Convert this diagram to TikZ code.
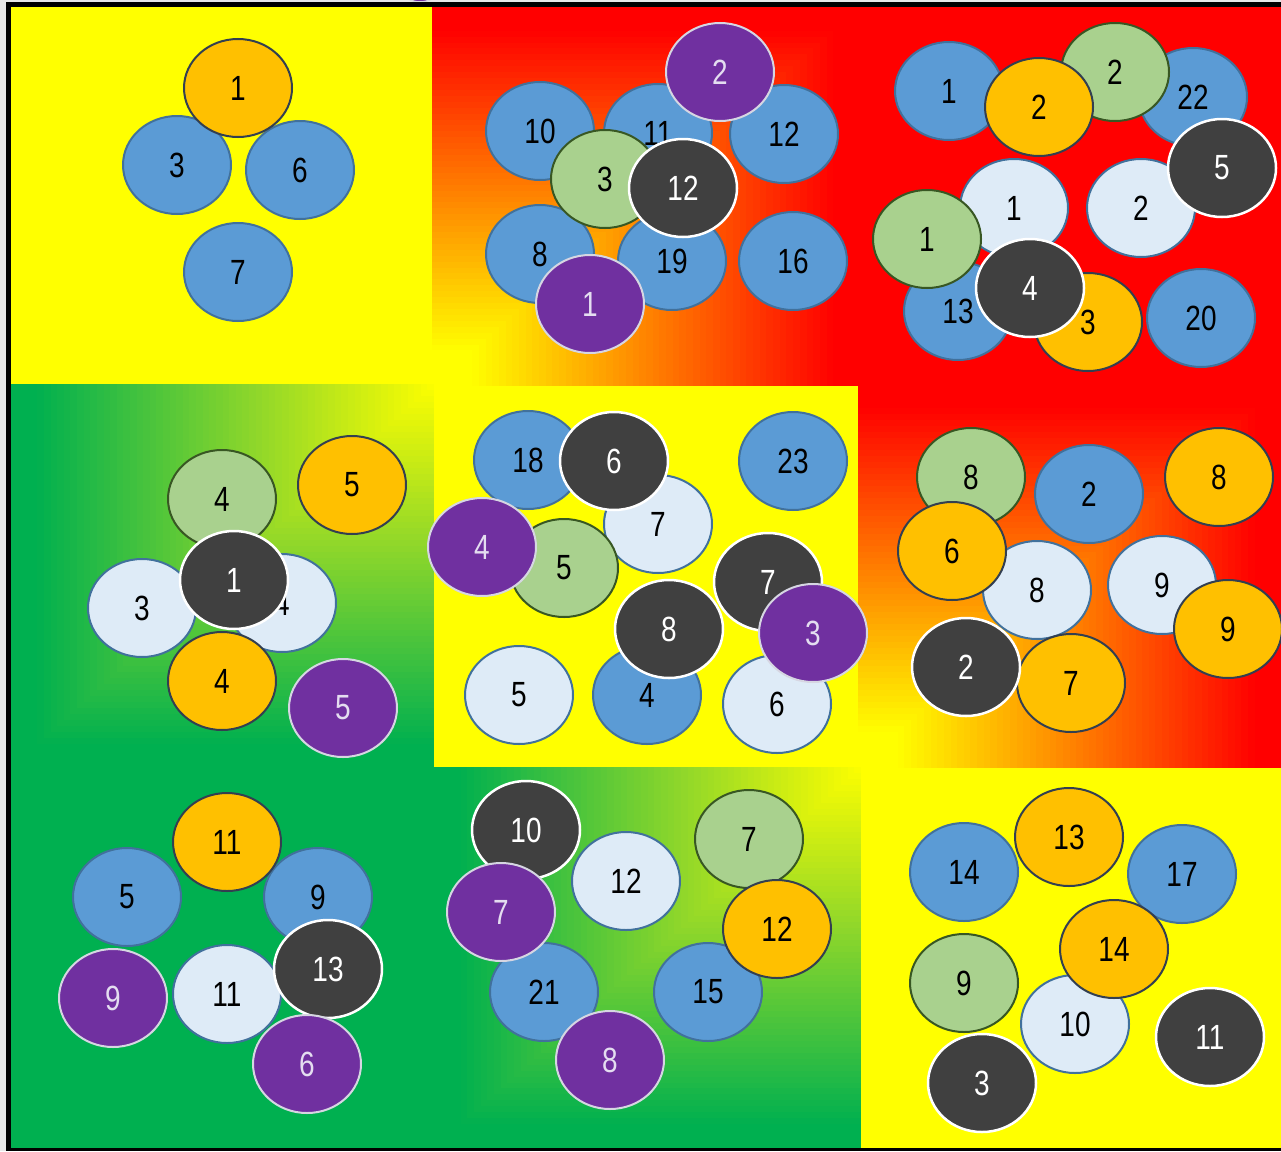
\documentclass[tikz,border=0pt]{standalone}
\usepackage{fontspec}
\newfontfamily\numfont{Liberation Sans}[FakeStretch=0.8]
\usetikzlibrary{shapes.geometric}

\definecolor{cYel}{HTML}{FFFF00}
\definecolor{cRed}{HTML}{FF0000}
\definecolor{cGrn}{HTML}{00B050}
\definecolor{cGray}{HTML}{E7E7E7}
\definecolor{bbF}{HTML}{5B9BD5}
\definecolor{bbD}{HTML}{41719C}
\definecolor{ogF}{HTML}{FFC000}
\definecolor{ogD}{HTML}{333F50}
\definecolor{grF}{HTML}{A9D18E}
\definecolor{grD}{HTML}{385723}
\definecolor{lbF}{HTML}{DEEBF7}
\definecolor{dkF}{HTML}{404040}
\definecolor{ppF}{HTML}{7030A0}
\definecolor{ppD}{HTML}{D6D6E2}
\definecolor{ppT}{HTML}{E4DDF0}

% colour profiles of the corner gradients (t = 0 at the corner, 1 at the far side)
\newcommand\profY[1]{%
  \pgfmathtruncatemacro\gG{255*max(0,min(1,(0.95-#1)/0.85))}%
  \definecolor{gc}{RGB}{255,\gG,0}}
\newcommand\profG[1]{%
  \pgfmathsetmacro\ga{min(1,#1/0.42)}%
  \pgfmathsetmacro\gb{max(0,min(1,(#1-0.42)/0.53))}%
  \pgfmathtruncatemacro\gR{255-109*\ga-146*\gb}%
  \pgfmathtruncatemacro\gG{255-39*\ga-40*\gb}%
  \pgfmathtruncatemacro\gB{42*\ga+38*\gb}%
  \definecolor{gc}{RGB}{\gR,\gG,\gB}}
% rectangular gradient from corner (#1,#2) to far corner (#3,#4)
\newcommand\gradpanel[5]{%
  \foreach \k in {64,63,...,1}{%
    \pgfmathsetmacro\gt{\k/64}%
    #5{\gt}%
    \fill[gc] (#1,#2) rectangle ({#1+\gt*(#3-#1)},{#2+\gt*(#4-#2)});
  }}

\tikzset{
  ell/.style={ellipse, minimum width=108pt, minimum height=98pt, inner sep=0pt,
    line width=2pt, font=\numfont\fontsize{35}{40}\selectfont},
  bb/.style={ell, fill=bbF, draw=bbD, text=black},
  og/.style={ell, fill=ogF, draw=ogD, text=black},
  gr/.style={ell, fill=grF, draw=grD, text=black},
  lb/.style={ell, fill=lbF, draw=bbD, text=black},
  dk/.style={ell, fill=dkF, draw=white, text=white, line width=2.5pt},
  pp/.style={ell, fill=ppF, draw=ppD, text=ppT},
}

\begin{document}
\begin{tikzpicture}[x=1pt, y=-1pt]
\useasboundingbox (0,0) rectangle (1281,1151);
\fill[cGray] (0,0) rectangle (1281,1151);
\fill[ppF, draw=ppD, line width=1.5pt] (420,-8) ellipse [x radius=16, y radius=10];
\fill[black] (6,2) rectangle (1281,1151);

% panels
\fill[cYel] (11,7) rectangle (432,385);
\gradpanel{432}{386}{860}{7}{\profY}
\fill[cRed] (860,7) rectangle (1281,386);
\gradpanel{434}{384}{11}{768}{\profG}
\gradpanel{858}{768}{1281}{384}{\profY}
\fill[cGrn] (11,768) rectangle (440,1148);
\gradpanel{861}{767}{434}{1148}{\profG}
\fill[cYel] (861,768) rectangle (1281,1148);
\fill[cYel] (434,386) rectangle (858,767);

% top left
\node[bb] (a3) at (177,165) {3};
\node[bb] (a6) at (300,170) {6};
\node[bb] (a7) at (238,272) {7};
\node[og] (a1) at (238,88) {1};

% top middle
\node[bb] (b10) at (540,131) {10};
\node[bb] (b11) at (658,133) {11};
\node[bb] (b12) at (784,134) {12};
\node[bb] (b8) at (540,254) {8};
\node[bb] (b19) at (672,261) {19};
\node[bb] (b16) at (793,261) {16};
\node[pp] (b2) at (720,72) {2};
\node[gr] (b3) at (605,179) {3};
\node[dk] (b12d) at (683,188) {12};
\node[pp] (b1) at (590,304) {1};

% top right
\node[bb] (c1) at (949,91) {1};
\node[bb] (c22) at (1193,97) {22};
\node[bb] (c13) at (958,311) {13};
\node[bb] (c20) at (1201,318) {20};
\node[lb] (c1l) at (1014,208) {1};
\node[lb] (c2l) at (1141,208) {2};
\node[og] (c3) at (1088,322) {3};
\node[gr] (c2g) at (1115,72) {2};
\node[og] (c2o) at (1039,107) {2};
\node[gr] (c1g) at (927,239) {1};
\node[dk] (c5) at (1222,168) {5};
\node[dk] (c4) at (1030,288) {4};

% middle left
\node[gr] (d4g) at (222,499) {4};
\node[og] (d5o) at (352,485) {5};
\node[lb] (d3) at (142,608) {3};
\node[lb] (d4l) at (282,603) {4};
\node[og] (d4o) at (222,681) {4};
\node[dk] (d1) at (234,580) {1};
\node[pp] (d5p) at (343,708) {5};

% centre
\node[bb] (e18) at (528,460) {18};
\node[bb] (e23) at (793,461) {23};
\node[lb] (e7l) at (658,524) {7};
\node[dk] (e6d) at (614,461) {6};
\node[gr] (e5g) at (564,568) {5};
\node[pp] (e4p) at (482,547) {4};
\node[lb] (e5l) at (519,695) {5};
\node[bb] (e4b) at (647,695) {4};
\node[lb] (e6l) at (777,704) {6};
\node[dk] (e7d) at (768,582) {7};
\node[dk] (e8) at (669,629) {8};
\node[pp] (e3) at (813,633) {3};

% middle right
\node[gr] (f8g) at (971,477) {8};
\node[bb] (f2b) at (1089,494) {2};
\node[og] (f8o) at (1219,477) {8};
\node[lb] (f8l) at (1037,590) {8};
\node[og] (f6) at (952,551) {6};
\node[lb] (f9l) at (1162,585) {9};
\node[og] (f9o) at (1228,629) {9};
\node[og] (f7) at (1071,683) {7};
\node[dk] (f2d) at (966,667) {2};

% bottom left
\node[bb] (g5) at (127,897) {5};
\node[bb] (g9b) at (318,897) {9};
\node[og] (g11o) at (227,842) {11};
\node[pp] (g9p) at (113,998) {9};
\node[lb] (g11l) at (227,994) {11};
\node[dk] (g13) at (328,969) {13};
\node[pp] (g6) at (307,1064) {6};

% bottom middle
\node[dk] (h10) at (526,830) {10};
\node[bb] (h21) at (544,992) {21};
\node[pp] (h7p) at (501,912) {7};
\node[lb] (h12l) at (626,881) {12};
\node[gr] (h7g) at (749,839) {7};
\node[bb] (h15) at (708,992) {15};
\node[og] (h12o) at (777,929) {12};
\node[pp] (h8) at (610,1060) {8};

% bottom right
\node[bb] (i14b) at (964,872) {14};
\node[og] (i13) at (1069,837) {13};
\node[bb] (i17) at (1182,874) {17};
\node[lb] (i10) at (1075,1024) {10};
\node[og] (i14o) at (1114,949) {14};
\node[gr] (i9) at (964,983) {9};
\node[dk] (i3) at (982,1083) {3};
\node[dk] (i11) at (1210,1037) {11};
\end{tikzpicture}
\end{document}
